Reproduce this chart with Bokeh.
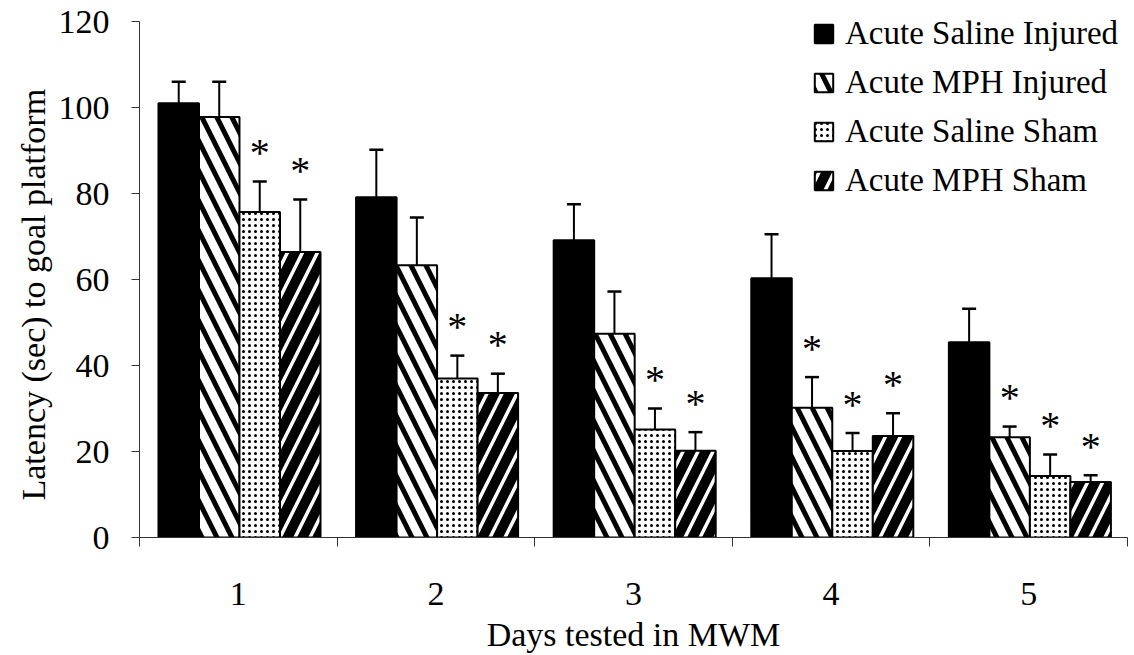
from bokeh.plotting import figure
from bokeh.models import (ColumnDataSource, Whisker, TeeHead, Legend, LegendItem,
                          FixedTicker, Title, Range1d)
from bokeh.core.properties import value
from bokeh.embed import file_html
from bokeh.resources import INLINE

# ---- data ----
days = [1, 2, 3, 4, 5]
day_labels = ["1", "2", "3", "4", "5"]
groups = ["Acute Saline Injured", "Acute MPH Injured", "Acute Saline Sham", "Acute MPH Sham"]

saline_injured = [101.0, 79.1, 69.1, 60.3, 45.4]
saline_injured_err = [5.0, 11.1, 8.4, 10.2, 7.8]
mph_injured = [97.8, 63.3, 47.4, 30.2, 23.3]
mph_injured_err = [8.2, 11.1, 9.8, 7.1, 2.5]
saline_sham = [75.7, 37.0, 25.1, 20.1, 14.3]
saline_sham_err = [7.1, 5.3, 4.9, 4.2, 5.0]
mph_sham = [66.4, 33.6, 20.2, 23.6, 12.9]
mph_sham_err = [12.2, 4.5, 4.3, 5.3, 1.6]

saline_injured_sig = [0, 0, 0, 0, 0]
mph_injured_sig = [0, 0, 0, 1, 1]
saline_sham_sig = [1, 1, 1, 1, 1]
mph_sham_sig = [1, 1, 1, 1, 1]

y_ticks = [0, 20, 40, 60, 80, 100, 120]
y_title = "Latency (sec) to goal platform"
x_title = "Days tested in MWM"

FONT = "Liberation Serif"

series = [
    (groups[0], saline_injured, saline_injured_err, saline_injured_sig,
     dict(fill_color="black")),
    (groups[1], mph_injured, mph_injured_err, mph_injured_sig,
     dict(fill_color="white", hatch_pattern="left_diagonal_line", hatch_color="black",
          hatch_weight=5, hatch_scale=30)),
    (groups[2], saline_sham, saline_sham_err, saline_sham_sig,
     dict(fill_color="white", hatch_pattern="dot", hatch_color="black",
          hatch_weight=0.5, hatch_scale=6)),
    (groups[3], mph_sham, mph_sham_err, mph_sham_sig,
     dict(fill_color="black", hatch_pattern="right_diagonal_line", hatch_color="white",
          hatch_weight=3.5, hatch_scale=30)),
]

# frame: bottom at y=537px, 4.3 px per unit; top extended a little so the
# legend sits fully inside the frame, while the axis line stops at 120
p = figure(width=1134, height=655, output_backend="svg", toolbar_location=None,
           x_range=Range1d(0.5, 5.5), y_range=Range1d(0, 120 + 16 / 4.3),
           min_border_left=139, min_border_right=7, min_border_top=5, min_border_bottom=118)
p.outline_line_color = None
p.xgrid.visible = False
p.ygrid.visible = False
p.background_fill_color = "white"
p.border_fill_color = "white"

bar_w = 0.205
offsets = [-1.5, -0.5, 0.5, 1.5]
legend_items = []
for (name, vals, errs, sig, style), off in zip(series, offsets):
    xs = [d + off * bar_w + 0.006 for d in days]
    tops = [v + e for v, e in zip(vals, errs)]
    src = ColumnDataSource(dict(x=xs, top=vals, upper=tops))
    r = p.vbar(x="x", top="top", width=bar_w, bottom=0, source=src,
               line_color="black", line_width=2, **style)
    legend_items.append(LegendItem(label=name, renderers=[r]))
    w = Whisker(source=src, base="x", lower="top", upper="upper", dimension="height",
                line_color="black", line_width=2,
                upper_head=TeeHead(size=14, line_color="black", line_width=2.5),
                lower_head=None, level="glyph")
    p.add_layout(w)
    sx = [x for x, s in zip(xs, sig) if s]
    sy = [t for t, s in zip(tops, sig) if s]
    if sx:
        ssrc = ColumnDataSource(dict(x=sx, y=sy, t=["*"] * len(sx)))
        p.text(x="x", y="y", text="t", source=ssrc, text_align="center",
               text_baseline="alphabetic", y_offset=-29,
               text_font=value(FONT), text_font_size="40px", text_color="black")

legend = Legend(items=legend_items, location=(812 - 139, 537 - 14 - 185),
                glyph_width=23, glyph_height=23, label_height=38, spacing=11,
                label_standoff=10, padding=0, margin=0,
                label_text_font=FONT, label_text_font_size="33px",
                label_text_color="black",
                border_line_color=None, background_fill_alpha=0)
p.add_layout(legend)

# y axis
p.yaxis.ticker = FixedTicker(ticks=y_ticks)
p.yaxis.bounds = (0, 120)
p.yaxis.axis_line_color = "#333333"
p.yaxis.major_tick_line_color = "#333333"
p.yaxis.major_tick_out = 8
p.yaxis.major_tick_in = 0
p.yaxis.minor_tick_line_color = None
p.yaxis.major_label_standoff = 22
p.yaxis.major_label_text_font = FONT
p.yaxis.major_label_text_font_size = "34px"
p.yaxis.major_label_text_color = "black"

# x axis: labels at day centers, tick marks at category boundaries
p.xaxis.ticker = FixedTicker(ticks=days, minor_ticks=[0.5, 1.5, 2.5, 3.5, 4.5, 5.5])
p.xaxis.major_label_overrides = {d: l for d, l in zip(days, day_labels)}
p.xaxis.axis_line_color = "#333333"
p.xaxis.major_tick_line_color = None
p.xaxis.major_tick_out = 0
p.xaxis.major_tick_in = 0
p.xaxis.minor_tick_line_color = "#333333"
p.xaxis.minor_tick_out = 9
p.xaxis.minor_tick_in = 0
p.xaxis.major_label_standoff = 36
p.xaxis.major_label_text_font = FONT
p.xaxis.major_label_text_font_size = "34px"
p.xaxis.major_label_text_color = "black"
p.xaxis.axis_label = x_title
p.xaxis.axis_label_text_font = FONT
p.xaxis.axis_label_text_font_size = "34px"
p.xaxis.axis_label_text_font_style = "normal"
p.xaxis.axis_label_text_color = "black"
p.xaxis.axis_label_standoff = 8

ytitle = Title(text=y_title, align="left", offset=37, standoff=7,
               text_font=FONT, text_font_size="34px", text_font_style="normal",
               text_color="black")
p.add_layout(ytitle, "left")

open("out.html", "w").write(file_html(p, INLINE))
